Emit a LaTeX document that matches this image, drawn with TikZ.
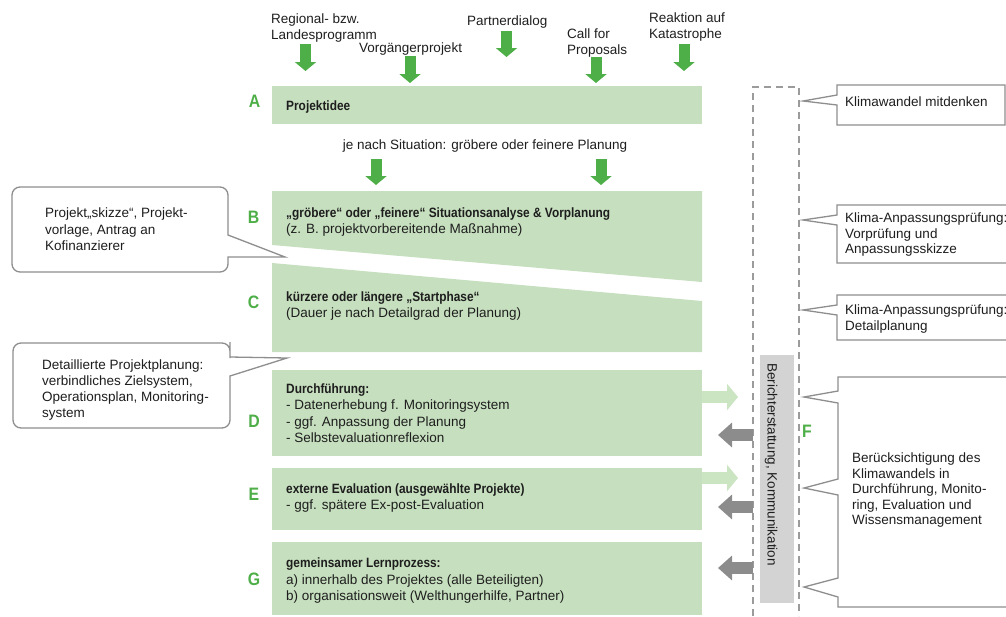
\documentclass[tikz,border=0pt]{standalone}
\usepackage{fontspec}
\setmainfont{Liberation Sans}
\newfontfamily\condfont[FakeStretch=0.88]{Liberation Sans}
\usetikzlibrary{arrows.meta}
\definecolor{grn}{HTML}{4EAE47}
\definecolor{boxgreen}{HTML}{C6DFBE}
\definecolor{lightarr}{HTML}{CBE5C3}
\definecolor{grayarr}{HTML}{8C8C8C}
\definecolor{bargray}{HTML}{D3D3D3}
\definecolor{callgray}{HTML}{8E8E8E}
\definecolor{dashgray}{HTML}{9B9B9B}
\definecolor{ink}{HTML}{1E1E1E}
\newcommand\boldcond[1]{{\condfont\bfseries #1}}
\tikzset{
  stage/.style={fill=boxgreen, draw=none, inner sep=0pt, anchor=north west},
  letter/.style={font=\condfont\bfseries\fontsize{18}{20}\selectfont, text=grn, anchor=base, inner sep=0pt},
  txt/.style={font=\fontsize{13.5}{16}\selectfont, text=ink, anchor=base west, inner sep=0pt, align=left},
  txtc/.style={font=\fontsize{13.5}{15.5}\selectfont, text=ink, anchor=base west, inner sep=0pt, align=left},
  callout/.style={draw=callgray, line width=1.3pt, fill=white, line join=miter},
  gdown/.style={line width=11pt, draw=grn, -{Triangle[width=21pt,length=9pt]}},
  lright/.style={line width=12pt, draw=lightarr, -{Triangle[width=26pt,length=11pt]}},
  gleft/.style={line width=12pt, draw=grayarr, -{Triangle[width=24pt,length=14pt]}},
  dashline/.style={draw=dashgray, line width=1.2pt, dash pattern=on 7pt off 5pt}
}
\begin{document}
\begin{tikzpicture}[x=1pt,y=-1pt]
\useasboundingbox (0,0) rectangle (1006,616);

% ---------- top input labels and arrows (base = last line)
\node[txt] (l1) at (271,39) {Regional- bzw.\\Landesprogramm};
\node[txt] (l2) at (359,52.5) {Vorgängerprojekt};
\node[txt] (l3) at (467,25.5) {Partnerdialog};
\node[txt] (l4) at (567,54) {Call for\\Proposals};
\node[txt] (l5) at (649,38) {Reaktion auf\\Katastrophe};
\coordinate (a1s) at (305.5,44); \coordinate (a1e) at (305.5,71);
\coordinate (a2s) at (410,56);   \coordinate (a2e) at (410,83);
\coordinate (a3s) at (506.5,31); \coordinate (a3e) at (506.5,57);
\coordinate (a4s) at (596,57);   \coordinate (a4e) at (596,83);
\coordinate (a5s) at (684,44);   \coordinate (a5e) at (684,71);
\draw[gdown] (a1s) -- (a1e);
\draw[gdown] (a2s) -- (a2e);
\draw[gdown] (a3s) -- (a3e);
\draw[gdown] (a4s) -- (a4e);
\draw[gdown] (a5s) -- (a5e);

% ---------- stage A
\node[stage, minimum width=430pt, minimum height=38pt] (A) at (272,86) {};
\node[txt] (At) at (286,110) {\boldcond{Projektidee}};
\node[letter] (LA) at (254.5,107.5) {A};

\node[txt, anchor=base] (je) at (485,149.5) {je nach Situation: gröbere oder feinere Planung};
\coordinate (j1s) at (376,159); \coordinate (j1e) at (376,185);
\coordinate (j2s) at (601,159); \coordinate (j2e) at (601,185);
\draw[gdown] (j1s) -- (j1e);
\draw[gdown] (j2s) -- (j2e);

% ---------- stage B and C (slanted)
\coordinate (B1) at (272,191); \coordinate (B2) at (702,191);
\coordinate (B3) at (702,282); \coordinate (B4) at (272,245);
\fill[boxgreen] (B1) -- (B2) -- (B3) -- (B4) -- cycle;
\node[txt, font=\fontsize{13.5}{15.5}\selectfont] (Bt) at (286,233) {\boldcond{„gröbere“ oder „feinere“ Situationsanalyse \& Vorplanung}\\(z. B. projektvorbereitende Maßnahme)};
\node[letter] (LB) at (253.5,223) {B};

\coordinate (C1) at (272,263); \coordinate (C2) at (702,301);
\coordinate (C3) at (702,352); \coordinate (C4) at (272,352);
\fill[boxgreen] (C1) -- (C2) -- (C3) -- (C4) -- cycle;
\node[txt] (Ct) at (286,317.5) {\boldcond{kürzere oder längere „Startphase“}\\(Dauer je nach Detailgrad der Planung)};
\node[letter] (LC) at (253.5,308) {C};

% ---------- stage D, E, G
\node[stage, minimum width=430pt, minimum height=86pt] (D) at (272,370) {};
\node[txt, font=\fontsize{13.5}{16.3}\selectfont] (Dt) at (286,442.5) {\boldcond{Durchführung:}\\- Datenerhebung f. Monitoringsystem\\- ggf. Anpassung der Planung\\- Selbstevaluationreflexion};
\node[letter] (LD) at (254,427) {D};

\node[stage, minimum width=430pt, minimum height=62pt] (E) at (272,468) {};
\node[txt] (Et) at (286,509.5) {\boldcond{externe Evaluation (ausgewählte Projekte)}\\- ggf. spätere Ex-post-Evaluation};
\node[letter] (LE) at (254,500.5) {E};

\node[stage, minimum width=430pt, minimum height=73pt] (G) at (272,542) {};
\node[txt, font=\fontsize{13.5}{16.5}\selectfont] (Gt) at (286,600.5) {\boldcond{gemeinsamer Lernprozess:}\\a) innerhalb des Projektes (alle Beteiligten)\\b) organisationsweit (Welthungerhilfe, Partner)};
\node[letter] (LG) at (254,585.5) {G};

% ---------- F column
\draw[dashline] (753,616) -- (753,87) -- (799,87) -- (799,616);
\node[fill=bargray, minimum width=34pt, minimum height=248pt, anchor=north west, inner sep=0pt] (bar) at (760,355) {};
\node[txt, rotate=-90, anchor=base] (bart) at (767.5,464.5) {Berichterstattung, Kommunikation};
\node[letter] (LF) at (807,437.5) {F};

% arrows between stages and F
\coordinate (dr1s) at (702,397); \coordinate (dr1e) at (738,397);
\coordinate (dl1s) at (753,435); \coordinate (dl1e) at (718,435);
\coordinate (er1s) at (702,478); \coordinate (er1e) at (738,478);
\coordinate (el1s) at (753,507); \coordinate (el1e) at (718,507);
\coordinate (gl1s) at (753,568); \coordinate (gl1e) at (718,568);
\draw[lright] (dr1s) -- (dr1e);
\draw[gleft] (dl1s) -- (dl1e);
\draw[lright] (er1s) -- (er1e);
\draw[gleft] (el1s) -- (el1e);
\draw[gleft] (gl1s) -- (gl1e);

% ---------- right callouts
\draw[callout] (1005,85) -- (837,85) -- (837,95) -- (803,101) -- (837,105) -- (837,125) -- (1005,125) -- cycle;
\node[txt] (k1) at (845,106.5) {Klimawandel mitdenken};

\draw[callout] (1008,205) -- (837,205) -- (837,215) -- (803,220) -- (837,225) -- (837,263) -- (1008,263);
\node[txtc] (k2) at (845,253.5) {Klima-Anpassungsprüfung:\\Vorprüfung und\\Anpassungsskizze};

\draw[callout] (1008,295) -- (837,295) -- (837,305) -- (803,310) -- (837,315) -- (837,340) -- (1008,340);
\node[txtc] (k3) at (845,330) {Klima-Anpassungsprüfung:\\Detailplanung};

\draw[callout] (1008,377) -- (838,377) -- (838,391) -- (804,397) -- (838,403) -- (838,479) -- (804,488) -- (838,495) -- (838,578) -- (804,587) -- (838,597) -- (838,607) -- (1008,607);
\node[txtc] (k4) at (852,524.5) {Berücksichtigung des\\Klimawandels in\\Durchführung, Monito-\\ring, Evaluation und\\Wissensmanagement};

% ---------- left callouts
\draw[callout] (12,230) [rounded corners=8pt] -- (12,187) -- (228,187) -- (228,225) [sharp corners] -- (228,235) -- (285,257) -- (228,257) -- (228,262) [rounded corners=8pt] -- (228,272) -- (12,272) -- cycle;
\node[txt, font=\fontsize{13.5}{16.5}\selectfont] (p1) at (45,250.5) {Projekt„skizze“, Projekt-\\vorlage, Antrag an\\Kofinanzierer};

\draw[callout] (13,390) [rounded corners=8pt] -- (13,343) -- (230,343) -- (230,350) [sharp corners] -- (230,357) -- (287,358) -- (230,376) -- (230,386) [rounded corners=8pt] -- (230,428) -- (13,428) -- cycle;
\node[txt] (p2) at (42,417.5) {Detaillierte Projektplanung:\\verbindliches Zielsystem,\\Operationsplan, Monitoring-\\system};
\end{tikzpicture}
\end{document}
